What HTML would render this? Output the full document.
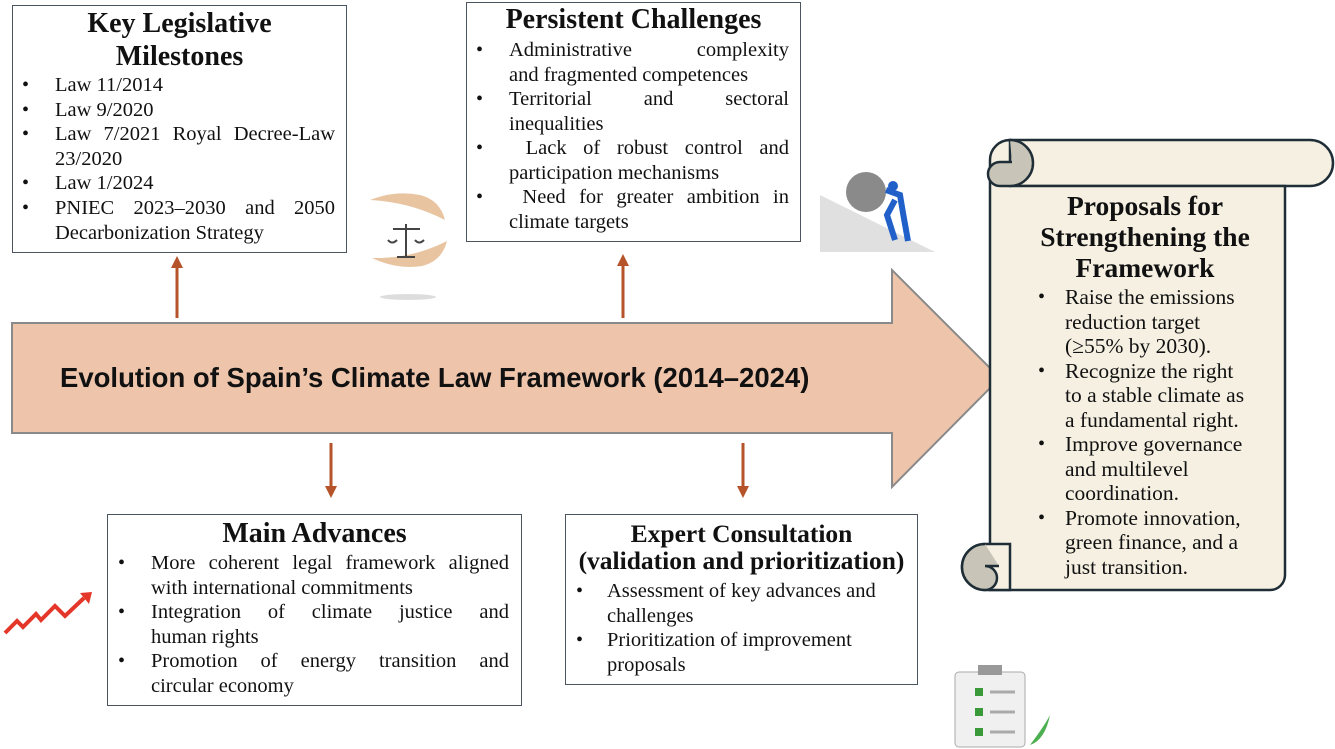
<!DOCTYPE html>
<html><head><meta charset="utf-8"><style>
body{margin:0;width:1335px;height:749px;background:#fff;position:relative;overflow:hidden;font-family:"Liberation Serif",serif;color:#111}
.box{position:absolute;border:1.5px solid #4a5560;background:#fff;box-sizing:border-box}
.t{position:absolute;font-weight:bold;font-size:28px;text-align:center;white-space:nowrap}
.l{position:absolute;font-size:20.5px;line-height:24px;white-space:nowrap}
.j{text-align:justify;text-align-last:justify}
.b{position:absolute;font-size:20px}
</style></head><body>
<svg width="1335" height="749" style="position:absolute;left:0;top:0">
<polygon points="12,323 892,323 892,270 1000,378 892,487 892,433 12,433" fill="#eec4ab" stroke="#8a8a8a" stroke-width="2"/>
<g stroke="#b5532a" stroke-width="3" fill="#b5532a">
<line x1="177" y1="318" x2="177" y2="268"/><polygon points="171,268 183,268 177,256" stroke="none"/>
<line x1="623" y1="318" x2="623" y2="266"/><polygon points="617,266 629,266 623,254" stroke="none"/>
<line x1="331" y1="443" x2="331" y2="487"/><polygon points="325,486 337,486 331,498" stroke="none"/>
<line x1="743" y1="443" x2="743" y2="487"/><polygon points="737,486 749,486 743,498" stroke="none"/>
</g>
<g stroke="#1f2e36" stroke-width="2.5">
<path d="M1010,140 H1310 a23,23 0 0 1 0,46 H1010 Z" fill="#f5f0e2"/>
<path d="M1010,186 H1285 V575 a15,15 0 0 1 -15,15 H990 V160 a20,20 0 0 1 20,-20 Z" fill="#f5f0e2"/>
<path d="M1010,140 a22,22 0 0 1 0,46 h-10 a12,12 0 0 1 0,-24 h12" fill="#c8c5b8"/>
<path d="M985,544 H1010 V590 H985 a23,23 0 0 1 0,-46 Z" fill="#f5f0e2"/>
<path d="M985,544 a23,23 0 0 0 0,46 a12,12 0 0 0 0,-24 h14" fill="#c8c5b8"/>
</g>
<polyline points="5,633 17,621 23,627 36,614 41,620 55,606 65,616 84,598" fill="none" stroke="#e4372a" stroke-width="4"/>
<polygon points="80,593 92,592 89,604" fill="#e4372a"/>
<path d="M370,200 q25,-10 50,-5 q20,5 25,25 q-35,-18 -75,-20z" fill="#e8c4a0"/>
<path d="M372,258 q25,12 50,8 q20,-5 25,-25 q-35,18 -75,17z" fill="#e8c4a0"/>
<g stroke="#444" stroke-width="2" fill="none"><line x1="406" y1="224" x2="406" y2="257"/><line x1="393" y1="229" x2="420" y2="229"/><line x1="397" y1="257" x2="415" y2="257"/><path d="M388,240 q4,5 9,0 M415,240 q4,5 9,0"/></g>
<ellipse cx="408" cy="297" rx="28" ry="3" fill="#ddd"/>
<polygon points="820,195 935,252 820,252" fill="#e0e0e0"/>
<circle cx="866" cy="192" r="20" fill="#8a8a8a"/>
<path d="M886,190 l14,5 l3,18 l5,28 M895,200 l-8,15 l8,25" stroke="#2060c8" stroke-width="6" fill="none"/>
<circle cx="893" cy="186" r="5" fill="#2060c8"/>
<rect x="955" y="672" width="70" height="75" rx="4" fill="#f0f0f0" stroke="#aaa"/>
<rect x="978" y="665" width="24" height="10" fill="#999"/>
<g fill="#3a9a3a"><rect x="975" y="688" width="8" height="8"/><rect x="975" y="708" width="8" height="8"/><rect x="975" y="728" width="8" height="8"/></g>
<g stroke="#aaa" stroke-width="3"><line x1="990" y1="692" x2="1015" y2="692"/><line x1="990" y1="712" x2="1015" y2="712"/><line x1="990" y1="732" x2="1015" y2="732"/></g>
<path d="M1030,745 q15,-20 20,-30 q-5,25 -20,30z" fill="#4caf50"/>
</svg>

<div style="position:absolute;left:60px;top:362px;font-family:'Liberation Sans',sans-serif;font-weight:bold;font-size:27.5px;color:#111">Evolution of Spain’s Climate Law Framework (2014–2024)</div>

<div class="box" style="left:12px;top:5px;width:335px;height:248px"></div>
<div class="t" style="left:12px;width:335px;top:7px;line-height:33px">Key Legislative<br>Milestones</div>
<div class="b" style="left:22px;top:73px;line-height:24.6px">•<br>•<br>•<br><br>•<br>•</div>
<div class="l" style="left:55px;top:73px;width:280px;line-height:24.6px">Law 11/2014<br>Law 9/2020<div class="j">Law 7/2021 Royal Decree-Law</div>23/2020<br>Law 1/2024<div class="j">PNIEC 2023–2030 and 2050</div>Decarbonization Strategy</div>

<div class="box" style="left:466px;top:2px;width:335px;height:240px"></div>
<div class="t" style="left:466px;width:335px;top:4px">Persistent Challenges</div>
<div class="b" style="left:476px;top:38px;line-height:24.5px">•<br><br>•<br><br>•<br><br>•</div>
<div class="l" style="left:509px;top:38px;width:280px;line-height:24.5px"><div class="j">Administrative complexity</div>and fragmented competences<div class="j">Territorial and sectoral</div>inequalities<div class="j">&nbsp;Lack of robust control and</div>participation mechanisms<div class="j">&nbsp;Need for greater ambition in</div>climate targets</div>

<div class="box" style="left:107px;top:514px;width:415px;height:192px"></div>
<div class="t" style="left:107px;width:415px;top:518px">Main Advances</div>
<div class="b" style="left:118px;top:551px;line-height:24.6px">•<br><br>•<br><br>•</div>
<div class="l" style="left:151px;top:551px;width:358px;line-height:24.6px"><div class="j">More coherent legal framework aligned</div>with international commitments<div class="j">Integration of climate justice and</div>human rights<div class="j">Promotion of energy transition and</div>circular economy</div>

<div class="box" style="left:565px;top:514px;width:353px;height:171px"></div>
<div class="t" style="left:565px;width:353px;top:520px;line-height:27px;font-size:25.5px">Expert Consultation<br>(validation and prioritization)</div>
<div class="b" style="left:576px;top:579px;line-height:24.5px">•<br><br>•</div>
<div class="l" style="left:607px;top:579px;width:300px;line-height:24.5px">Assessment of key advances and<br>challenges<br>Prioritization of improvement<br>proposals</div>

<div class="t" style="left:1000px;width:290px;top:190px;font-size:27.5px;line-height:31px">Proposals for<br>Strengthening the<br>Framework</div>
<div class="b" style="left:1038px;top:285px;line-height:24.5px">•<br><br><br>•<br><br><br>•<br><br><br>•</div>
<div class="l" style="left:1065px;top:285px;line-height:24.5px;font-size:21.5px">Raise the emissions<br>reduction target<br>(≥55% by 2030).<br>Recognize the right<br>to a stable climate as<br>a fundamental right.<br>Improve governance<br>and multilevel<br>coordination.<br>Promote innovation,<br>green finance, and a<br>just transition.</div>
</body></html>
